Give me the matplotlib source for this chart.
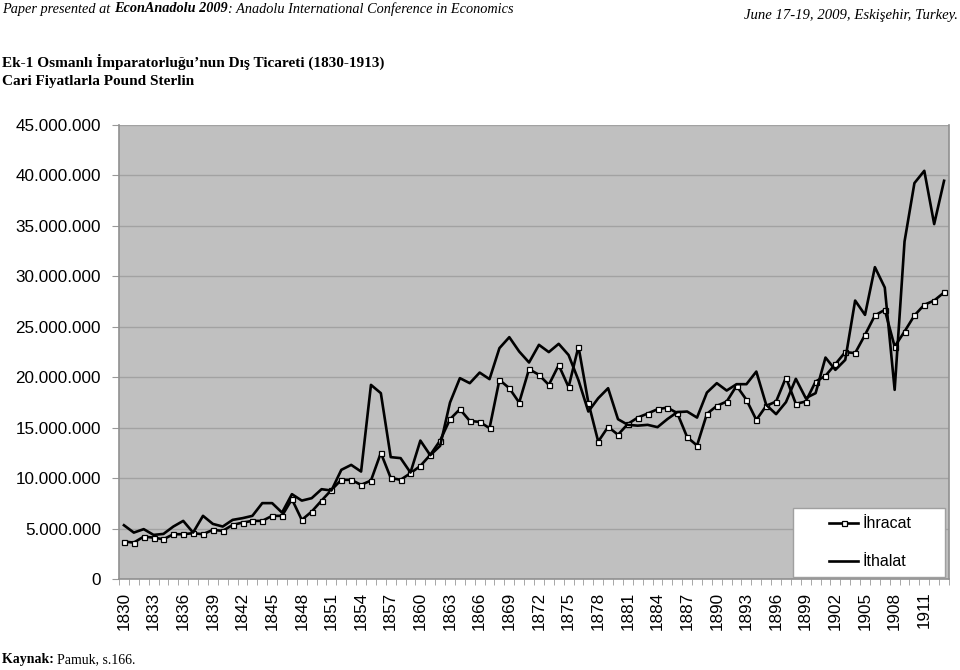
import matplotlib
matplotlib.use("Agg")
import matplotlib.pyplot as plt
from matplotlib.patches import Rectangle
from matplotlib.ticker import FuncFormatter
import numpy as np

years = list(range(1830, 1914))

# İhracat (exports), million pound sterling
ihracat = [3.71, 3.61, 4.20, 4.10, 3.94, 4.44, 4.44, 4.54, 4.44, 4.87,
           4.77, 5.36, 5.59, 5.76, 5.76, 6.26, 6.26, 7.91, 5.86, 6.68,
           7.77, 8.83, 9.83, 9.83, 9.33, 9.76, 12.50, 10.02, 9.83, 10.49,
           11.21, 12.30, 13.72, 15.84, 16.83, 15.67, 15.57, 14.95, 19.74, 18.91,
           17.49, 20.80, 20.24, 19.24, 21.20, 19.02, 23.04, 17.49, 13.62, 15.08,
           14.30, 15.37, 16.00, 16.40, 16.83, 16.99, 16.44, 14.06, 13.23, 16.37,
           17.16, 17.59, 19.15, 17.76, 15.77, 17.16, 17.59, 19.97, 17.36, 17.59,
           19.57, 20.14, 21.30, 22.49, 22.39, 24.20, 26.12, 26.68, 23.04, 24.53,
           26.12, 27.18, 27.60, 28.40]

# İthalat (imports), million pound sterling
ithalat = [5.33, 4.60, 4.94, 4.37, 4.47, 5.20, 5.76, 4.60, 6.26, 5.46,
           5.20, 5.86, 6.03, 6.26, 7.52, 7.52, 6.58, 8.41, 7.77, 8.01,
           8.90, 8.77, 10.82, 11.31, 10.65, 19.24, 18.42, 12.08, 11.98, 10.55,
           13.72, 12.27, 13.20, 17.49, 19.91, 19.41, 20.46, 19.81, 22.88, 23.97,
           22.55, 21.46, 23.21, 22.49, 23.31, 22.20, 19.70, 16.60, 17.92, 18.91,
           15.84, 15.28, 15.20, 15.28, 15.05, 15.85, 16.54, 16.60, 16.00, 18.48,
           19.41, 18.68, 19.31, 19.31, 20.56, 17.26, 16.34, 17.53, 19.84, 17.93,
           18.42, 21.95, 20.73, 21.72, 27.60, 26.18, 30.91, 28.89, 18.75, 33.45,
           39.24, 40.46, 35.18, 39.47]

label_years = list(range(1830, 1914, 3))

ihracat = np.array(ihracat) * 1e6
ithalat = np.array(ithalat) * 1e6

serif = "Liberation Serif"
sans = "Liberation Sans"

fig = plt.figure(figsize=(9.6, 6.7), dpi=100)
ax = fig.add_axes([119/960, 91/670, 830/960, 454/670])
ax.set_facecolor("#c0c0c0")

ax.plot(years, ihracat, '-s', color='black', lw=1.9, markersize=3.6,
        markerfacecolor='white', markeredgecolor='black', markeredgewidth=0.9,
        label="İhracat", zorder=3)
ax.plot(years, ithalat, '-', color='black', lw=1.9, label="İthalat", zorder=3)

ax.set_xlim(1829.5, 1913.5)
ax.set_ylim(0, 45e6)
ax.set_yticks(np.arange(0, 45e6 + 1, 5e6))
ax.yaxis.set_major_formatter(FuncFormatter(lambda v, p: "0" if v == 0 else "{:,.0f}".format(v).replace(",", ".")))
ax.grid(axis='y', color='#a2a2a2', lw=1.0)
ax.set_axisbelow(True)

ax.set_xticks(label_years)
ax.set_xticklabels([str(y) for y in label_years], rotation=90, family=sans, fontsize=12.3)
ax.set_xticks(np.arange(1829.5, 1914, 1), minor=True)
ax.tick_params(axis='x', which='major', length=0, pad=9)
ax.tick_params(axis='x', which='minor', length=4, color='#999999', direction='out')
ax.tick_params(axis='y', length=5, color='#999999', direction='out', pad=8)
for t in ax.get_yticklabels():
    t.set_family(sans)
    t.set_fontsize(12.3)

ax.spines['top'].set_visible(False)
for side in ['left', 'bottom', 'right']:
    ax.spines[side].set_color('#909090')
    ax.spines[side].set_linewidth(1.2)

# legend box
ax.add_patch(Rectangle((0.812, 0.004), 0.183, 0.152, transform=ax.transAxes,
                       facecolor='white', edgecolor='#a0a0a0', lw=1.0, zorder=4))
leg = ax.legend(loc='center', bbox_to_anchor=(0.905, 0.08), frameon=False,
                prop={'family': sans, 'size': 11.5}, handlelength=1.8,
                handletextpad=0.25, labelspacing=1.45, numpoints=1)
leg.set_zorder(5)

# header and titles
fig.canvas.draw()
r = fig.canvas.get_renderer()

def put_parts(x, y, parts, size):
    for txt, w, st in parts:
        t = fig.text(x, y, txt, family=serif, fontsize=size, weight=w, style=st,
                     va='center', ha='left')
        bb = t.get_window_extent(renderer=r)
        x = x + bb.width / 960

put_parts(2/960, 1 - 9/670, [("Paper presented at ", 'normal', 'italic'),
                             ("EconAnadolu 2009", 'bold', 'italic'),
                             (": Anadolu International Conference in Economics", 'normal', 'italic')], 10.3)
fig.text(958/960, 1 - 16/670, "June 17-19, 2009, Eskişehir, Turkey.", family=serif,
         fontsize=10.6, style='italic', ha='right', va='center')
fig.text(2/960, 1 - 62/670, "Ek-1 Osmanlı İmparatorluğu’nun Dış Ticareti (1830-1913)", family=serif,
         fontsize=11.0, weight='bold', ha='left', va='center')
fig.text(2/960, 1 - 81/670, "Cari Fiyatlarla Pound Sterlin", family=serif,
         fontsize=11.0, weight='bold', ha='left', va='center')
put_parts(2/960, 1 - 660/670, [("Kaynak: ", 'bold', 'normal'),
                               ("Pamuk, s.166.", 'normal', 'normal')], 10)

fig.savefig("out.png", dpi=100)
